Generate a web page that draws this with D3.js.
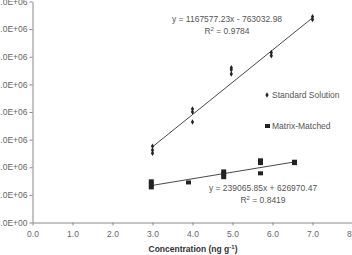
<!DOCTYPE html>
<meta charset="utf-8">
<head>
  <title>Calibration curves</title>
</head>

<style>
  body {
    margin: 0;
    font-family: "Liberation Sans", Arial, sans-serif;
    background: #fff;
  }
  .axis text {
    font-size: 8.5px;
    fill: #666;
  }
  .axis path, .axis line {
    stroke: #888;
  }
</style>

<body>
<svg id="chart" width="352" height="255"></svg>

<script src="https://cdnjs.cloudflare.com/ajax/libs/d3/7.8.5/d3.min.js"></script>
<script>
  // standard solution: concentration (ng/g) and response
  var stdConc = [3.0, 3.0, 3.0, 4.0, 4.0, 4.0, 4.97, 4.97, 4.97, 5.97, 5.97, 7.0, 7.0];
  var stdResp = [2760000, 2620000, 2510000, 4110000, 4000000, 3640000, 5600000, 5530000, 5380000, 6150000, 6040000, 7450000, 7350000];

  // matrix-matched
  var mmConc = [2.97, 2.97, 2.97, 3.9, 4.78, 4.78, 4.78, 5.7, 5.7, 5.7, 6.55, 6.55];
  var mmResp = [1490000, 1380000, 1270000, 1450000, 1850000, 1750000, 1640000, 2250000, 2150000, 1780000, 2200000, 2150000];

  // trendline coefficients [slope, intercept] and r squared
  var stdFit = [1167577.23, -763032.98];
  var mmFit = [239065.85, 626970.47];
  var stdR2 = "0.9784";
  var mmR2 = "0.8419";

  var xTicks = [0, 1, 2, 3, 4, 5, 6, 7, 8];
  var yTicks = [0, 1e6, 2e6, 3e6, 4e6, 5e6, 6e6, 7e6, 8e6];
  var legendLabels = ["Standard Solution", "Matrix-Matched"];

  var svg = d3.select('#chart');

  var x = d3.scaleLinear()
    .domain([0, 8])
    .range([32.5, 352.5]);

  var y = d3.scaleLinear()
    .domain([0, 8e6])
    .range([222.5, 1.5]);

  svg.append('g')
    .attr('class', 'axis')
    .attr('transform', 'translate(0,222.5)')
    .call(d3.axisBottom(x)
      .tickValues(xTicks)
      .tickFormat(d3.format('.1f'))
      .tickSizeInner(3)
      .tickSizeOuter(0)
      .tickPadding(5));

  svg.append('g')
    .attr('class', 'axis')
    .attr('transform', 'translate(32.5,0)')
    .call(d3.axisLeft(y)
      .tickValues(yTicks)
      .tickFormat(function(d) {
        return d === 0 ? '0.0E+00' : (d / 1e6).toFixed(1) + 'E+06';
      })
      .tickSizeInner(3)
      .tickSizeOuter(0)
      .tickPadding(2));

  // trendlines
  function fitLine(conc, fit) {
    var ext = d3.extent(conc);
    return ext.map(function(c) { return [x(c), y(fit[0] * c + fit[1])]; });
  }

  svg.append('path')
    .attr('d', d3.line()(fitLine(stdConc, stdFit)))
    .attr('stroke', '#333')
    .attr('stroke-width', 0.9)
    .attr('fill', 'none');

  svg.append('path')
    .attr('d', d3.line()(fitLine(mmConc, mmFit)))
    .attr('stroke', '#333')
    .attr('stroke-width', 0.9)
    .attr('fill', 'none');

  // points
  var diamond = d3.symbol().type(d3.symbolDiamond).size(9);

  svg.append('g')
    .selectAll('path')
    .data(d3.range(stdConc.length))
    .enter()
    .append('path')
    .attr('d', diamond)
    .attr('transform', function(i) {
      return 'translate(' + x(stdConc[i]) + ',' + y(stdResp[i]) + ')';
    })
    .attr('fill', '#222');

  svg.append('g')
    .selectAll('rect')
    .data(d3.range(mmConc.length))
    .enter()
    .append('rect')
    .attr('x', function(i) { return x(mmConc[i]) - 2.5; })
    .attr('y', function(i) { return y(mmResp[i]) - 2; })
    .attr('width', 5)
    .attr('height', 4)
    .attr('fill', '#222');

  // equations
  var eq = svg.append('g')
    .style('font-size', '8.5px')
    .style('fill', '#555');

  eq.append('text')
    .attr('x', 227)
    .attr('y', 22)
    .attr('text-anchor', 'middle')
    .text('y = ' + stdFit[0].toFixed(2) + 'x - ' + Math.abs(stdFit[1]).toFixed(2));

  var r1 = eq.append('text')
    .attr('x', 227)
    .attr('y', 34)
    .attr('text-anchor', 'middle');
  r1.append('tspan').text('R');
  r1.append('tspan').attr('dy', -3).style('font-size', '6px').text('2');
  r1.append('tspan').attr('dy', 3).text(' = ' + stdR2);

  eq.append('text')
    .attr('x', 263)
    .attr('y', 191)
    .attr('text-anchor', 'middle')
    .text('y = ' + mmFit[0].toFixed(2) + 'x + ' + mmFit[1].toFixed(2));

  var r2 = eq.append('text')
    .attr('x', 263)
    .attr('y', 203)
    .attr('text-anchor', 'middle');
  r2.append('tspan').text('R');
  r2.append('tspan').attr('dy', -3).style('font-size', '6px').text('2');
  r2.append('tspan').attr('dy', 3).text(' = ' + mmR2);

  // legend
  var legend = svg.append('g')
    .style('font-size', '8.5px')
    .style('fill', '#555');

  legend.append('path')
    .attr('d', diamond)
    .attr('transform', 'translate(267,95)')
    .attr('fill', '#222');
  legend.append('text')
    .attr('x', 272)
    .attr('y', 98)
    .text(legendLabels[0]);

  legend.append('rect')
    .attr('x', 265)
    .attr('y', 124)
    .attr('width', 5)
    .attr('height', 4)
    .attr('fill', '#222');
  legend.append('text')
    .attr('x', 272)
    .attr('y', 129)
    .text(legendLabels[1]);

  // x axis title
  var title = svg.append('text')
    .attr('x', 193)
    .attr('y', 252)
    .attr('text-anchor', 'middle')
    .style('font-size', '8.5px')
    .style('font-weight', 'bold')
    .style('fill', '#333');
  title.append('tspan').text('Concentration (ng g');
  title.append('tspan').attr('dy', -3).style('font-size', '6px').text('-1');
  title.append('tspan').attr('dy', 3).text(')');

</script>
</body>
</html>
